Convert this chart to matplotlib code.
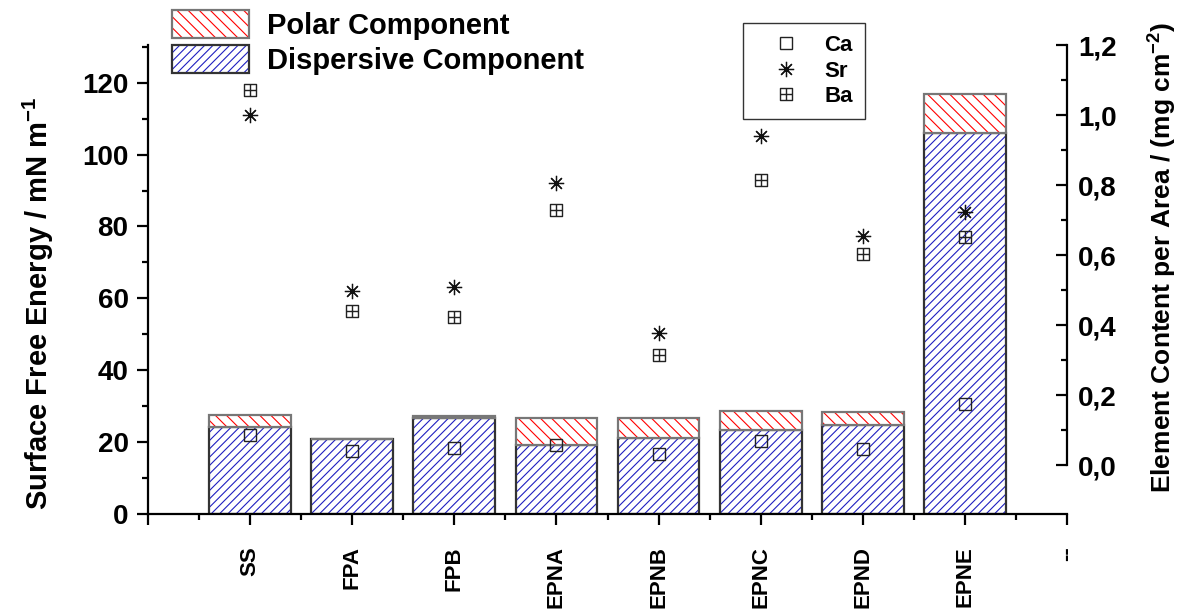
import numpy as np
import matplotlib
matplotlib.use('Agg')
import matplotlib.pyplot as plt
import matplotlib.patches as mpatches
from matplotlib.path import Path
from matplotlib.ticker import MultipleLocator, FixedLocator

# data
samples = ['SS', 'FPA', 'FPB', 'EPNA', 'EPNB', 'EPNC', 'EPND', 'EPNE']
dispersive = [24.1, 20.8, 26.7, 19.2, 21.1, 23.3, 24.9, 105.9]
polar = [3.4, 0.0, 0.7, 7.4, 5.5, 5.3, 3.4, 11.1]
ca = [0.086, 0.041, 0.049, 0.058, 0.032, 0.069, 0.045, 0.174]
sr = [1.000, 0.497, 0.509, 0.807, 0.376, 0.940, 0.654, 0.724]
ba = [1.071, 0.441, 0.423, 0.729, 0.313, 0.814, 0.604, 0.652]

plt.rcParams['font.family'] = ['Liberation Sans', 'DejaVu Sans']
plt.rcParams['font.weight'] = 'bold'
plt.rcParams['mathtext.fontset'] = 'custom'
plt.rcParams['mathtext.rm'] = 'Liberation Sans:bold'
plt.rcParams['mathtext.bf'] = 'Liberation Sans:bold'
plt.rcParams['hatch.linewidth'] = 0.8

fig = plt.figure(figsize=(11.9, 6.12), dpi=100)
ax = fig.add_axes([148 / 1190, 98 / 612, 919 / 1190, 469 / 612])

x = np.arange(1, len(samples) + 1)
w = 0.8

# dispersive part
ax.bar(x, dispersive, w, color='white', edgecolor='#2020c0', hatch='////', linewidth=0.3)
ax.bar(x, dispersive, w, fill=False, edgecolor='#333333', linewidth=1.6)
# polar part on top
ax.bar(x, polar, w, bottom=dispersive, color='white', edgecolor='red', hatch='\\\\\\', linewidth=0.3)
ax.bar(x, polar, w, bottom=dispersive, fill=False, edgecolor='#777777', linewidth=1.6)

ax.set_xlim(0, 9)
ax.set_ylim(0, 130.5)
ax.xaxis.set_major_locator(FixedLocator(range(10)))
ax.xaxis.set_minor_locator(FixedLocator(np.arange(0.5, 9, 1)))
ax.set_xticklabels([''] + samples + ['--'], rotation=90, fontsize=16, fontweight='bold')
ax.yaxis.set_major_locator(MultipleLocator(20))
ax.yaxis.set_minor_locator(MultipleLocator(10))
ax.tick_params(axis='x', which='major', direction='out', length=8, width=1.6, pad=15)
ax.tick_params(axis='x', which='minor', direction='out', length=4, width=1.6)
ax.tick_params(axis='y', which='major', direction='out', length=8, width=1.6, labelsize=20, pad=6)
ax.tick_params(axis='y', which='minor', direction='out', length=4, width=1.6)
for s in ['top', 'right']:
    ax.spines[s].set_visible(False)
for s in ['left', 'bottom']:
    ax.spines[s].set_linewidth(1.6)
ax.set_ylabel('Surface Free Energy / mN m$^{-1}$', fontsize=21, fontweight='bold')
ax.yaxis.set_label_coords(-0.1, 0.45)

# element content on the right axis
ax2 = ax.twinx()
ax2.set_ylim(-0.14, 1.2)
sq_cross = Path([(-1, -1), (1, -1), (1, 1), (-1, 1), (-1, -1), (0, -1), (0, 1), (-1, 0), (1, 0)],
                [Path.MOVETO, Path.LINETO, Path.LINETO, Path.LINETO, Path.CLOSEPOLY,
                 Path.MOVETO, Path.LINETO, Path.MOVETO, Path.LINETO])
l_ca, = ax2.plot(x, ca, ls='none', marker='s', ms=8, mfc='none', mec='#222222', mew=1.0, label='Ca')
l_sr, = ax2.plot(x, sr, ls='none', marker=(8, 2, 0), ms=11, mec='#111111', mew=0.9, label='Sr')
l_ba, = ax2.plot(x, ba, ls='none', marker=sq_cross, ms=9, mfc='none', mec='#222222', mew=1.0, label='Ba')

for s in ['top', 'left', 'bottom']:
    ax2.spines[s].set_visible(False)
ax2.spines['right'].set_bounds(0, 1.2)
ax2.spines['right'].set_linewidth(1.6)
ax2.yaxis.set_major_locator(FixedLocator([0, 0.2, 0.4, 0.6, 0.8, 1.0, 1.2]))
ax2.yaxis.set_minor_locator(FixedLocator([0.1, 0.3, 0.5, 0.7, 0.9, 1.1]))
ax2.set_yticklabels(['0,0', '0,2', '0,4', '0,6', '0,8', '1,0', '1,2'])
ax2.tick_params(axis='y', which='major', direction='in', length=8, width=1.6, labelsize=20, pad=8)
ax2.tick_params(axis='y', which='minor', direction='in', length=4, width=1.6)
ax2.set_ylabel('Element Content per Area / (mg cm$^{-2}$)', fontsize=19, fontweight='bold')
ax2.yaxis.set_label_coords(1.085, 0.548)

# legend for the bars
hp = (mpatches.Patch(facecolor='white', edgecolor='red', hatch='\\\\\\', linewidth=0.3),
      mpatches.Patch(fill=False, edgecolor='#777777', linewidth=1.6))
hd = (mpatches.Patch(facecolor='white', edgecolor='#2020c0', hatch='////', linewidth=0.3),
      mpatches.Patch(fill=False, edgecolor='#333333', linewidth=1.6))
fig.legend([hp, hd], ['Polar Component', 'Dispersive Component'], loc='upper left',
           bbox_to_anchor=(172 / 1190, 1 - 10 / 612), bbox_transform=fig.transFigure,
           frameon=False, prop={'size': 21, 'weight': 'bold'}, handlelength=2.64,
           handleheight=1.1, labelspacing=0.17, handletextpad=0.62, borderpad=0,
           borderaxespad=0)

# legend for the elements
leg2 = fig.legend([l_ca, l_sr, l_ba], ['Ca', 'Sr', 'Ba'], loc='upper left',
                  bbox_to_anchor=(743 / 1190, 1 - 23 / 612), bbox_transform=fig.transFigure,
                  frameon=True, fancybox=False, prop={'size': 16, 'weight': 'bold'},
                  handlelength=2.8, handletextpad=0.3, borderpad=0.55, labelspacing=0.2,
                  borderaxespad=0)
leg2.get_frame().set_edgecolor('black')
leg2.get_frame().set_linewidth(1.0)

fig.savefig('out.png', dpi=100)
